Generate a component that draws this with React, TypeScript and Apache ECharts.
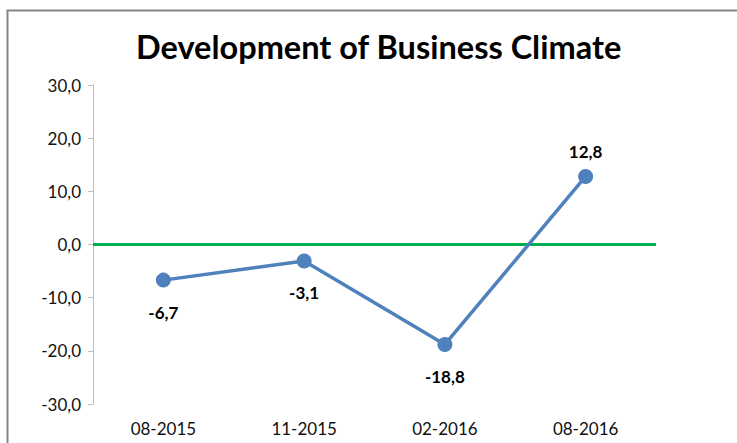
import React, { useEffect, useRef } from "react";
import * as echarts from "echarts";

const categories = ["08-2015", "11-2015", "02-2016", "08-2016"];
const climateValues = [-6.7, -3.1, -18.8, 12.8];
const labelPositions = ["bottom", "bottom", "bottom", "top"];
const titleText = "Development of Business Climate";

const fmt = (v: number) => v.toFixed(1).replace(".", ",");

export default function App() {
  const ref = useRef<HTMLDivElement>(null);
  useEffect(() => {
    if (!ref.current) return;
    const chart = echarts.init(ref.current, null, { renderer: "svg" });
    const font = "Lato, 'Open Sans', sans-serif";
    chart.setOption({
      animation: false,
      backgroundColor: "#ffffff",
      textStyle: { fontFamily: font },
      title: {
        text: titleText,
        left: 131,
        top: 25,
        textStyle: { fontFamily: font, fontSize: 32.5, fontWeight: "bold", color: "#000" },
      },
      graphic: [
        {
          type: "rect",
          shape: { x: 7.5, y: 10.5, width: 760, height: 460 },
          style: { fill: "none", stroke: "#868686", lineWidth: 2 },
          silent: true,
        },
      ],
      grid: { left: 93, right: 81, top: 85, bottom: 39, containLabel: false },
      xAxis: {
        type: "category",
        data: categories,
        boundaryGap: true,
        axisLine: { show: false },
        axisTick: { show: false },
        axisLabel: { fontFamily: font, fontSize: 17, color: "#111", margin: 16 },
      },
      yAxis: {
        type: "value",
        min: -30,
        max: 30,
        interval: 10,
        axisLine: { show: true, lineStyle: { color: "#bfbfbf", width: 1 } },
        axisTick: { show: true, length: 5, lineStyle: { color: "#bfbfbf" } },
        splitLine: { show: false },
        axisLabel: {
          fontFamily: font,
          fontSize: 17,
          color: "#111",
          margin: 12,
          formatter: (v: number) => fmt(v),
        },
      },
      series: [
        {
          type: "line",
          data: climateValues.map((v, i) => ({
            value: v,
            label: {
              position: labelPositions[i],
              distance: labelPositions[i] === "top" ? 9 : 16,
            },
          })),
          symbol: "circle",
          symbolSize: 15,
          lineStyle: { color: "#4f81bd", width: 3.5 },
          itemStyle: { color: "#4f81bd" },
          label: {
            show: true,
            fontFamily: font,
            fontSize: 17,
            fontWeight: "bold",
            color: "#000",
            formatter: (p: any) => fmt(p.value),
          },
          markLine: {
            silent: true,
            symbol: "none",
            label: { show: false },
            lineStyle: { color: "#00b050", width: 3, type: "solid" },
            data: [{ yAxis: 0 }],
            z: 1,
          },
          z: 3,
        },
      ],
    });
    return () => chart.dispose();
  }, []);
  return (
    <div
      ref={ref}
      style={{ position: "fixed", left: 0, top: 0, width: 737, height: 443 }}
    />
  );
}
